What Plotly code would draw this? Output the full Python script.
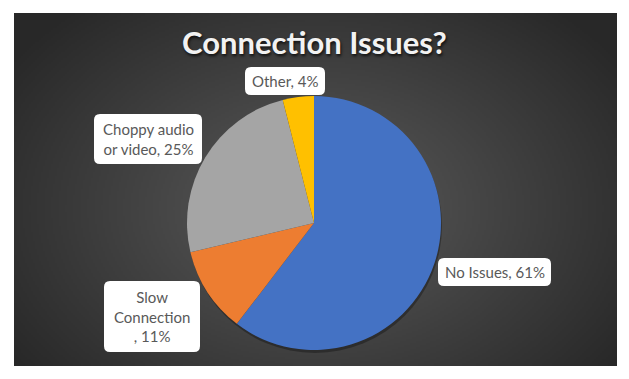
import base64, struct, zlib
import numpy as np
import plotly.graph_objects as go

# ---- data ----
categories = ["No Issues", "Slow Connection", "Choppy audio or video", "Other"]
values = [61, 11, 25, 4]
label_texts = ["No Issues, 61%", "Slow<br>Connection<br>, 11%", "Choppy audio<br>or video, 25%", "Other, 4%"]
colors = ["#4472C4", "#ED7D31", "#A5A5A5", "#FFC000"]
title_text = "Connection Issues?"

W, H = 629, 379

# ---- radial gradient background as PNG ----
def make_png(arr):
    h, w, _ = arr.shape
    raw = b"".join(b"\x00" + arr[i].tobytes() for i in range(h))
    def chunk(t, d):
        c = struct.pack(">I", len(d)) + t + d
        return c + struct.pack(">I", zlib.crc32(t + d) & 0xffffffff)
    png = b"\x89PNG\r\n\x1a\n" + chunk(b"IHDR", struct.pack(">IIBBBBB", w, h, 8, 2, 0, 0, 0))
    png += chunk(b"IDAT", zlib.compress(raw, 9)) + chunk(b"IEND", b"")
    return "data:image/png;base64," + base64.b64encode(png).decode()

gw, gh = 302, 177
yy, xx = np.mgrid[0:gh, 0:gw]
d = np.sqrt(((xx - gw * 0.5) / (gw * 0.62)) ** 2 + ((yy - gh * 0.55) / (gh * 0.75)) ** 2)
d = np.clip(d, 0, 1)
c_in, c_out = 92.0, 40.0
v = (c_in + (c_out - c_in) * d).astype(np.uint8)
img = np.stack([v, v, v], axis=-1)
bg_src = make_png(img)

x0p, x1p, y0p, y1p = 14, 617, 13, 366

fig = go.Figure()
cx, cy, r = 314, 223, 127
fig.add_trace(go.Pie(
    labels=categories, values=values, sort=False, direction="clockwise", rotation=0,
    marker=dict(colors=colors, line=dict(width=0)), textinfo="none", hoverinfo="label+percent",
    showlegend=False,
    domain=dict(x=[(cx - r) / W, (cx + r) / W], y=[1 - (cy + r) / H, 1 - (cy - r) / H]),
))

def px(x): return x / W
def py(y): return 1 - y / H

def rrect(x0, y0, x1, y1, rad=6):
    ax, ay = rad / W, rad / H
    X0, X1, Y0, Y1 = px(x0), px(x1), py(y1), py(y0)
    return (f"M{X0+ax},{Y0} L{X1-ax},{Y0} Q{X1},{Y0} {X1},{Y0+ay} L{X1},{Y1-ay} Q{X1},{Y1} {X1-ax},{Y1} "
            f"L{X0+ax},{Y1} Q{X0},{Y1} {X0},{Y1-ay} L{X0},{Y0+ay} Q{X0},{Y0} {X0+ax},{Y0} Z")

boxes = [(438, 258, 551, 286), (104, 281, 200, 352), (94, 114, 202, 164), (245, 67, 325, 95)]
shapes = [
    dict(type="circle", xref="paper", yref="paper", x0=px(cx - r + 1), x1=px(cx + r + 1),
         y0=py(cy + r + 3), y1=py(cy - r + 3), fillcolor="rgba(0,0,0,0.3)", line=dict(width=0), layer="below"),
]
annotations = []
for (b, t) in zip(boxes, label_texts):
    shapes.append(dict(type="path", xref="paper", yref="paper", path=rrect(*b), fillcolor="white",
                       line=dict(width=0), layer="above"))
    annotations.append(dict(x=px((b[0] + b[2]) / 2), y=py((b[1] + b[3]) / 2), xref="paper", yref="paper",
                            text=t, showarrow=False, font=dict(family="Lato", size=15, color="#595959"),
                            xanchor="center", yanchor="middle", align="center"))

annotations.insert(0, dict(x=px(314), y=py(42), xref="paper", yref="paper", text=f"<b>{title_text}</b>",
                           showarrow=False,
                           font=dict(family="Lato", size=31, color="#F2F2F2",
                                     shadow="1px 2px 3px rgba(0,0,0,0.75)"),
                           xanchor="center", yanchor="middle"))

fig.update_layout(
    width=W, height=H, margin=dict(l=0, r=0, t=0, b=0),
    paper_bgcolor="white", plot_bgcolor="white",
    images=[dict(source=bg_src, xref="paper", yref="paper", x=px(x0p), y=py(y0p),
                 sizex=(x1p - x0p) / W, sizey=(y1p - y0p) / H, sizing="stretch", layer="below",
                 xanchor="left", yanchor="top")],
    shapes=shapes, annotations=annotations,
)
fig.write_html("out.html", config={"displayModeBar": False},
               post_script="document.body.style.margin='0px';")
